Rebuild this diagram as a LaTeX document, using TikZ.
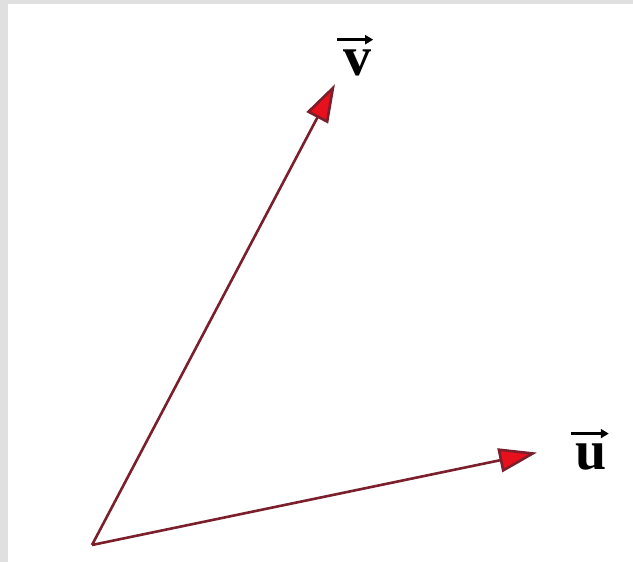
\documentclass[tikz,border=0pt]{standalone}
\usepackage{fontspec}
\setmainfont{Liberation Serif}
\usetikzlibrary{arrows.meta,positioning}
\definecolor{framegray}{HTML}{E0E0E0}
\definecolor{vecline}{HTML}{7A1F2B}
\definecolor{vechead}{HTML}{E8101C}

\begin{document}
\begin{tikzpicture}[x=1pt, y=1pt, every node/.style={font=\fontsize{56}{56}\selectfont\bfseries, inner sep=2pt}, vec/.style={-{Triangle[length=38pt, width=24pt, fill=vechead]}, draw=vecline, line width=2.6pt, shorten >=-2pt}, over/.style={-{Triangle[length=8pt, width=9pt]}, line width=2.4pt}]
\fill[framegray] (0,0) rectangle (633,562);
\fill[white] (8,0) rectangle (633,558);
\useasboundingbox (0,0) rectangle (633,562);
\coordinate (origin) at (92,17);
\coordinate (vtip) at (334,476);
\coordinate (utip) at (535,109);
\node (vlabel) at (357,499) {v};
\node (ulabel) at (591,105) {u};
\draw[over] ([xshift=-4pt, yshift=8pt]vlabel.north west) -- ([yshift=8pt]vlabel.north east);
\draw[over] ([xshift=-2pt, yshift=8pt]ulabel.north west) -- ([yshift=8pt]ulabel.north east);
\draw[vec] (origin) -- (vtip);
\draw[vec] (origin) -- (utip);
\end{tikzpicture}
\end{document}
